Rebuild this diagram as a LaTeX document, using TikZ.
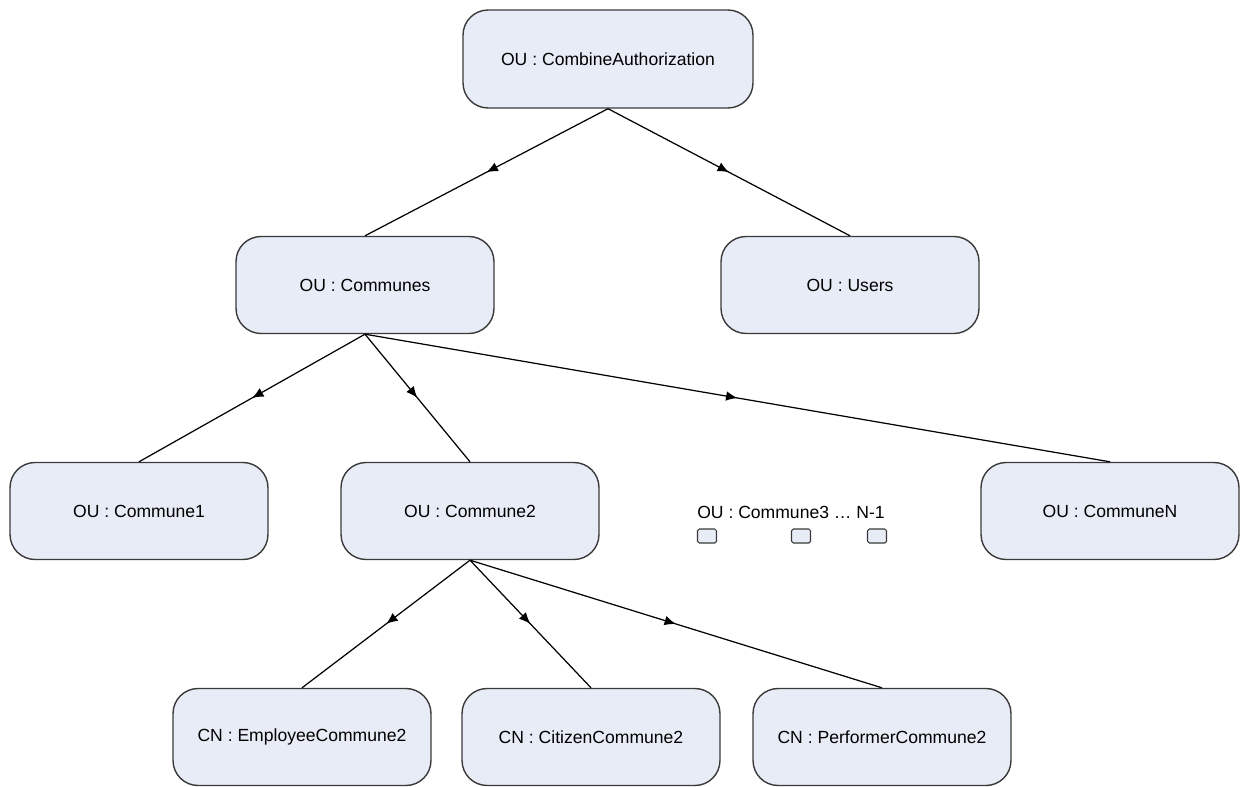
\documentclass[tikz,border=0pt]{standalone}
\usepackage{fontspec}
\setmainfont{Liberation Sans}
\usetikzlibrary{arrows.meta}
\usetikzlibrary{decorations.markings}
\definecolor{boxfill}{HTML}{E8ECF7}
\definecolor{boxline}{HTML}{3A3A3A}

\begin{document}
\begin{tikzpicture}[x=0.02cm,y=-0.02cm,
    ou/.style={draw=boxline,line width=0.8pt,fill=boxfill,rounded corners=0.5cm,
      minimum width=5.16cm,minimum height=1.94cm,font=\fontsize{10}{12}\selectfont},
    tiny/.style={draw=boxline,line width=0.6pt,fill=boxfill,rounded corners=1pt,
      minimum width=0.38cm,minimum height=0.28cm,inner sep=0pt},
    link/.style={line width=0.7pt,postaction={decorate},
      decoration={markings,mark=at position 0.5 with {\arrow{Latex[length=6.5pt,width=5.5pt]}}}}]
  \useasboundingbox (0,0) rectangle (1240,787);
  % levels
  \node[ou,minimum width=5.8cm,minimum height=1.96cm] (root) at (608,59) {OU : CombineAuthorization};
  \node[ou] (communes) at (365,285) {OU : Communes};
  \node[ou] (users) at (850,285) {OU : Users};
  \node[ou] (c1) at (139,511) {OU : Commune1};
  \node[ou] (c2) at (470,511) {OU : Commune2};
  \node[ou] (cn) at (1110,511) {OU : CommuneN};
  \node[ou] (employee) at (302,737) {CN : EmployeeCommune2};
  \node[ou] (citizen) at (591,737) {CN : CitizenCommune2};
  \node[ou] (performer) at (882,737) {CN : PerformerCommune2};
  % the ones in between
  \node[font=\fontsize{10}{12}\selectfont,inner sep=0pt] (crest) at (791,512) {OU : Commune3 \dots\ N-1};
  \node[tiny] (t1) at (707,536) {};
  \node[tiny] (t2) at (801,536) {};
  \node[tiny] (t3) at (877,536) {};
  % links
  \draw[link] (root.south) -- (communes.north);
  \draw[link] (root.south) -- (users.north);
  \draw[link] (communes.south) -- (c1.north);
  \draw[link] (communes.south) -- (c2.north);
  \draw[link] (communes.south) -- (cn.north);
  \draw[link] (c2.south) -- (employee.north);
  \draw[link] (c2.south) -- (citizen.north);
  \draw[link] (c2.south) -- (performer.north);
\end{tikzpicture}
\end{document}
